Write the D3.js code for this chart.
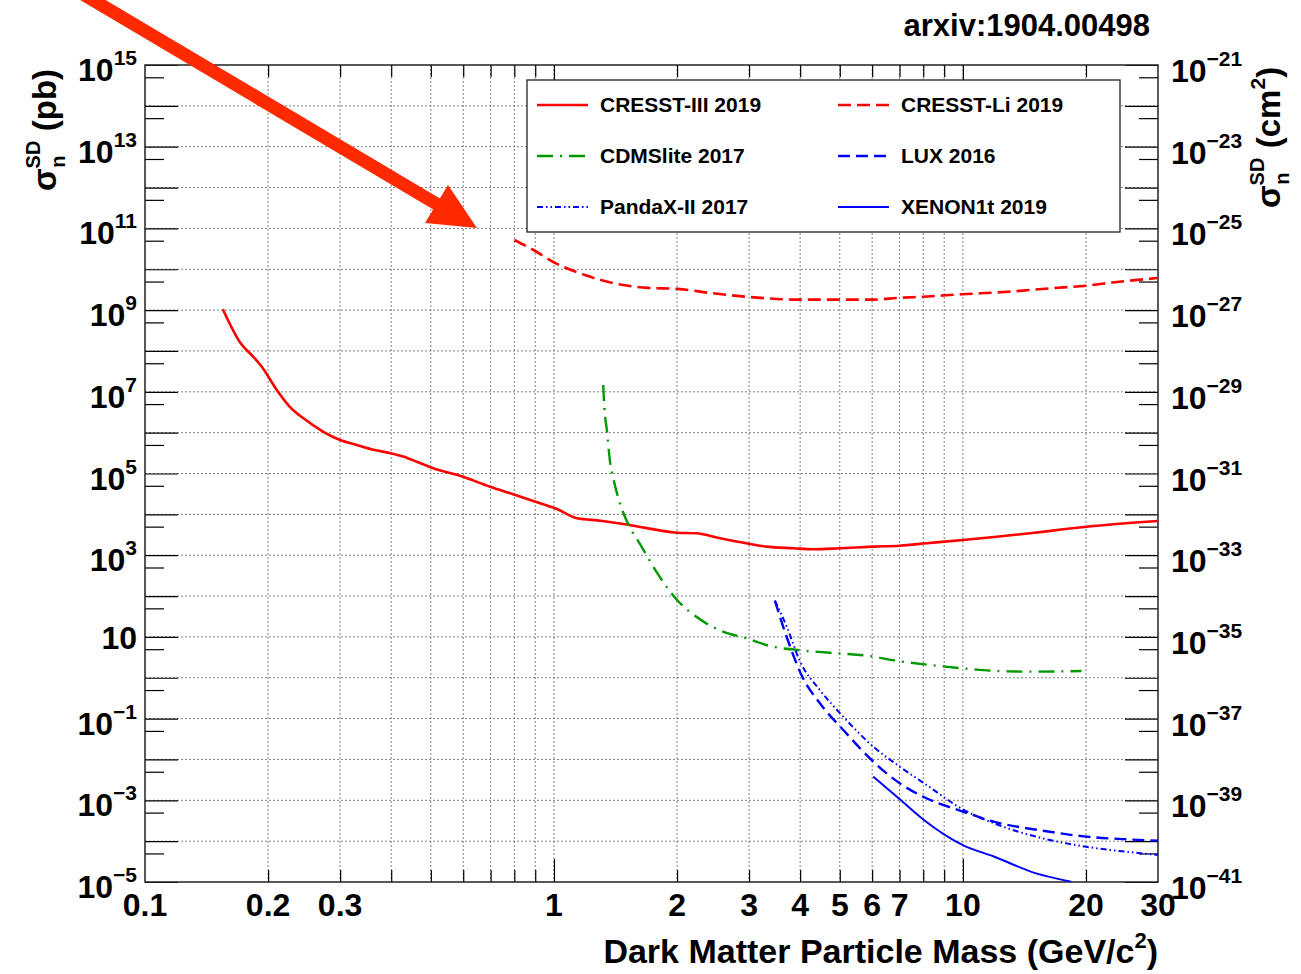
<!DOCTYPE html>
<html>
<head>
<meta charset="utf-8">
<script src="https://cdn.jsdelivr.net/npm/d3@7"></script>
<style>
  body { margin: 0; background: #fff; }
  text { font-family: "Liberation Sans", Arial, Helvetica, sans-serif; font-weight: bold; fill: #000; }
</style>
</head>
<body>
<div id="chart"></div>
<script>
// limits: [mass GeV/c^2, sigma_SD pb]
const cresstIII = [[0.155,1.05e9],[0.171,1.59e8],[0.184,7.2e7],[0.193,4.1e7],[0.210,1.11e7],[0.226,4.3e6],
  [0.244,2.24e6],[0.273,1.05e6],[0.300,6.6e5],[0.329,5.0e5],[0.362,3.8e5],[0.401,3.1e5],[0.428,2.6e5],
  [0.462,1.94e5],[0.507,1.34e5],[0.589,8.8e4],[0.698,4.75e4],[0.795,3.1e4],[0.890,2.12e4],[1.02,1.33e4],
  [1.14,8.0e3],[1.30,7.0e3],[1.45,6.0e3],[1.53,5.5e3],[2.00,3.56e3],[2.23,3.44e3],[2.55,2.59e3],[3.02,1.88e3],
  [3.31,1.62e3],[3.85,1.48e3],[4.31,1.40e3],[5.00,1.48e3],[6.04,1.62e3],[7.01,1.71e3],[8.15,1.96e3],
  [10.0,2.36e3],[12.1,2.84e3],[14.6,3.44e3],[17.6,4.30e3],[20.1,4.99e3],[30.0,6.88e3]];
const cresstLi = [[0.800,5.2e10],[0.891,2.96e10],[1.00,1.48e10],[1.19,7.2e9],[1.44,4.3e9],[1.70,3.5e9],
  [2.01,3.3e9],[2.43,2.6e9],[3.00,2.1e9],[4.00,1.80e9],[4.97,1.80e9],[6.00,1.80e9],[6.98,2.0e9],[8.00,2.13e9],
  [9.94,2.44e9],[12.9,2.82e9],[16.4,3.42e9],[20.0,3.96e9],[23.5,4.8e9],[30.0,6.1e9]];
const cdmslite = [[1.32,1.47e7],[1.325,6.3e6],[1.35,9.6e5],[1.37,2.1e5],[1.40,6.9e4],[1.45,1.86e4],[1.53,5.0e3],
  [1.62,1.96e3],[1.78,394],[2.00,80],[2.23,31],[2.59,13.4],[2.96,9.25],[3.37,6.0],[3.92,4.8],[4.73,4.1],
  [5.92,3.4],[6.89,2.6],[8.31,2.05],[10.0,1.70],[12.1,1.46],[14.6,1.41],[19.5,1.46]];
const lux = [[3.47,77],[3.57,31],[3.78,5.8],[4.03,1.17],[4.47,0.237],[5.10,0.0526],[6.04,8.8e-3],[7.01,2.6e-3],
  [8.00,1.22e-3],[10.0,5.3e-4],[11.9,3.0e-4],[15.7,1.8e-4],[20.0,1.29e-4],[25.1,1.11e-4],[30.0,1.03e-4]];
const pandax = [[3.47,77],[3.71,17.8],[4.00,2.47],[4.47,0.50],[5.10,0.111],[6.04,0.0205],[7.01,6.65e-3],
  [8.15,2.37e-3],[10.0,6.0e-4],[11.9,2.74e-4],[15.7,1.17e-4],[20.0,7.3e-5],[25.1,5.5e-5],[30.0,4.6e-5]];
const xenon1t = [[6.04,3.8e-3],[7.01,1.06e-3],[8.00,3.4e-4],[10.0,8.0e-5],[11.9,4.2e-5],[15.1,1.63e-5],[18.4,1.02e-5]];

const seriesNames = ["CRESST-III 2019","CRESST-Li 2019","CDMSlite 2017","LUX 2016","PandaX-II 2017","XENON1t 2019"];

// axis ticks
const xMinorTicks = [0.2,0.3,0.4,0.5,0.6,0.7,0.8,0.9,2,3,4,5,6,7,8,9,20];
const xMajorTicks = [1,10];
const xLabels = [0.1,0.2,0.3,1,2,3,4,5,6,7,10,20,30];
const yLabelExps = [15,13,11,9,7,5,3,1,-1,-3,-5];
const pbToCm2 = -36;

const W = 1301, H = 974;
const m = {left:145, right:1158, top:65, bottom:882};

const svg = d3.select("#chart").append("svg")
  .attr("width", W)
  .attr("height", H);

const x = d3.scaleLog().domain([0.1,30]).range([m.left,m.right]);
const y = d3.scaleLog().domain([1e-5,1e15]).range([m.bottom,m.top]);

const yDecades = d3.range(-5,16).map(e => +("1e"+e));
const yHalves = d3.range(-5,15).map(e => +("5e"+e));

// grid
const grid = svg.append("g")
  .attr("stroke","#808080")
  .attr("stroke-width",1)
  .attr("stroke-dasharray","2,2");
grid.selectAll("line.v")
  .data(xMinorTicks.concat(xMajorTicks))
  .enter().append("line")
  .attr("class","v")
  .attr("x1", d => x(d)).attr("x2", d => x(d))
  .attr("y1", m.top).attr("y2", m.bottom);
grid.selectAll("line.h")
  .data(yDecades.slice(1,-1))
  .enter().append("line")
  .attr("class","h")
  .attr("x1", m.left).attr("x2", m.right)
  .attr("y1", d => y(d)).attr("y2", d => y(d));

// ticks
const tickAxis = (axis, tr) => {
  svg.append("g")
    .attr("transform", tr)
    .call(axis.tickFormat(""))
    .call(g => g.select(".domain").remove())
    .selectAll("line").attr("stroke","#000").attr("stroke-width",1.2);
};
tickAxis(d3.axisRight(y).tickValues(yDecades).tickSize(33), `translate(${m.left},0)`);
tickAxis(d3.axisRight(y).tickValues(yHalves).tickSize(19), `translate(${m.left},0)`);
tickAxis(d3.axisLeft(y).tickValues(yDecades).tickSize(33), `translate(${m.right},0)`);
tickAxis(d3.axisLeft(y).tickValues(yHalves).tickSize(19), `translate(${m.right},0)`);
tickAxis(d3.axisTop(x).tickValues(xMinorTicks).tickSize(12), `translate(0,${m.bottom})`);
tickAxis(d3.axisTop(x).tickValues(xMajorTicks).tickSize(23), `translate(0,${m.bottom})`);
tickAxis(d3.axisBottom(x).tickValues(xMinorTicks).tickSize(12), `translate(0,${m.top})`);
tickAxis(d3.axisBottom(x).tickValues(xMajorTicks).tickSize(23), `translate(0,${m.top})`);

// frame
svg.append("rect")
  .attr("x", m.left).attr("y", m.top)
  .attr("width", m.right-m.left).attr("height", m.bottom-m.top)
  .attr("fill","none").attr("stroke","#222").attr("stroke-width",1.5);

// tick labels
const supText = e => (e < 0 ? "\u2212" + (-e) : "" + e);
svg.append("g").selectAll("text")
  .data(xLabels)
  .enter().append("text")
  .attr("x", d => x(d))
  .attr("y", 916)
  .attr("text-anchor","middle")
  .attr("font-size",32)
  .text(d => d);

const leftLab = svg.append("g").selectAll("text")
  .data(yLabelExps)
  .enter().append("text")
  .attr("x", 137)
  .attr("y", d => y(+("1e"+d)) + (d === 1 ? 12 : 16))
  .attr("text-anchor","end")
  .attr("font-size",32);
leftLab.append("tspan").text("10");
leftLab.filter(d => d !== 1).append("tspan")
  .attr("dy",-16).attr("font-size",21)
  .text(d => supText(d));

const rightLab = svg.append("g").selectAll("text")
  .data(yLabelExps)
  .enter().append("text")
  .attr("x", 1171)
  .attr("y", d => y(+("1e"+d)) + 17)
  .attr("font-size",32);
rightLab.append("tspan").text("10");
rightLab.append("tspan")
  .attr("dy",-16).attr("font-size",21)
  .text(d => supText(d + pbToCm2));

// axis titles
const sigmaTitle = (tx, ty, unit, sq) => {
  const t = svg.append("text")
    .attr("transform", `translate(${tx},${ty}) rotate(-90)`)
    .attr("font-size",33);
  t.append("tspan").text("\u03c3");
  t.append("tspan").attr("dy",-16).attr("font-size",20).text("SD");
  t.append("tspan").attr("dx",-27).attr("dy",25).attr("font-size",20).text("n");
  t.append("tspan").attr("dx",15).attr("dy",-9).text(" (" + unit);
  if (sq) {
    t.append("tspan").attr("dy",-15).attr("font-size",21).text("2");
    t.append("tspan").attr("dy",15).text(")");
  } else {
    t.append("tspan").text(")");
  }
};
sigmaTitle(56, 191, "pb", false);
sigmaTitle(1280, 208, "cm", true);

const xt = svg.append("text")
  .attr("x", m.right).attr("y", 963)
  .attr("text-anchor","end")
  .attr("font-size",34);
xt.append("tspan").text("Dark Matter Particle Mass (GeV/c");
xt.append("tspan").attr("dy",-15).attr("font-size",22).text("2");
xt.append("tspan").attr("dy",15).text(")");

svg.append("text")
  .attr("x",1150).attr("y",36)
  .attr("text-anchor","end")
  .attr("font-size",31)
  .text("arxiv:1904.00498");

// curves
svg.append("clipPath").attr("id","plotClip")
  .append("rect")
  .attr("x", m.left).attr("y", m.top)
  .attr("width", m.right-m.left).attr("height", m.bottom-m.top);

const styles = [
  {data:cresstIII, color:"#ff0000", dash:null, w:2.6},
  {data:cresstLi, color:"#ff0000", dash:"13,6", w:2.6},
  {data:cdmslite, color:"#009a00", dash:"16,7,2,7", w:2.4},
  {data:lux, color:"#0000ff", dash:"12,6", w:2.4},
  {data:pandax, color:"#0000ff", dash:"6,3,1.5,3,1.5,3", w:2},
  {data:xenon1t, color:"#0000ff", dash:null, w:2}
];

const line = d3.line().x(d => x(d[0])).y(d => y(d[1])).curve(d3.curveMonotoneX);
const curves = svg.append("g").attr("clip-path","url(#plotClip)");
curves.selectAll("path")
  .data(styles)
  .enter().append("path")
  .attr("d", d => line(d.data))
  .attr("fill","none")
  .attr("stroke", d => d.color)
  .attr("stroke-width", d => d.w)
  .attr("stroke-dasharray", d => d.dash);

// legend
const legend = svg.append("g");
legend.append("rect")
  .attr("x",527).attr("y",80)
  .attr("width",593).attr("height",152)
  .attr("fill","#fff").attr("stroke","#222").attr("stroke-width",1.3);
const item = legend.selectAll("g.item")
  .data(styles)
  .enter().append("g")
  .attr("class","item")
  .attr("transform", (d,i) => `translate(${i % 2 ? 838 : 537},${105 + Math.floor(i/2)*51})`);
item.append("line")
  .attr("x1",0).attr("x2",51)
  .attr("stroke", d => d.color)
  .attr("stroke-width", d => d.w)
  .attr("stroke-dasharray", d => d.dash);
item.append("text")
  .attr("x",63).attr("y",7)
  .attr("font-size",21)
  .text((d,i) => seriesNames[i]);

// annotation arrow
const arrow = svg.append("g").attr("fill","#ff2a00").attr("stroke","#ff2a00");
arrow.append("line")
  .attr("x1",76).attr("y1",-10)
  .attr("x2",440).attr("y2",206)
  .attr("stroke-width",13);
arrow.append("path")
  .attr("stroke","none")
  .attr("d","M477,228L425,223L448,185Z");
</script>
</body>
</html>
